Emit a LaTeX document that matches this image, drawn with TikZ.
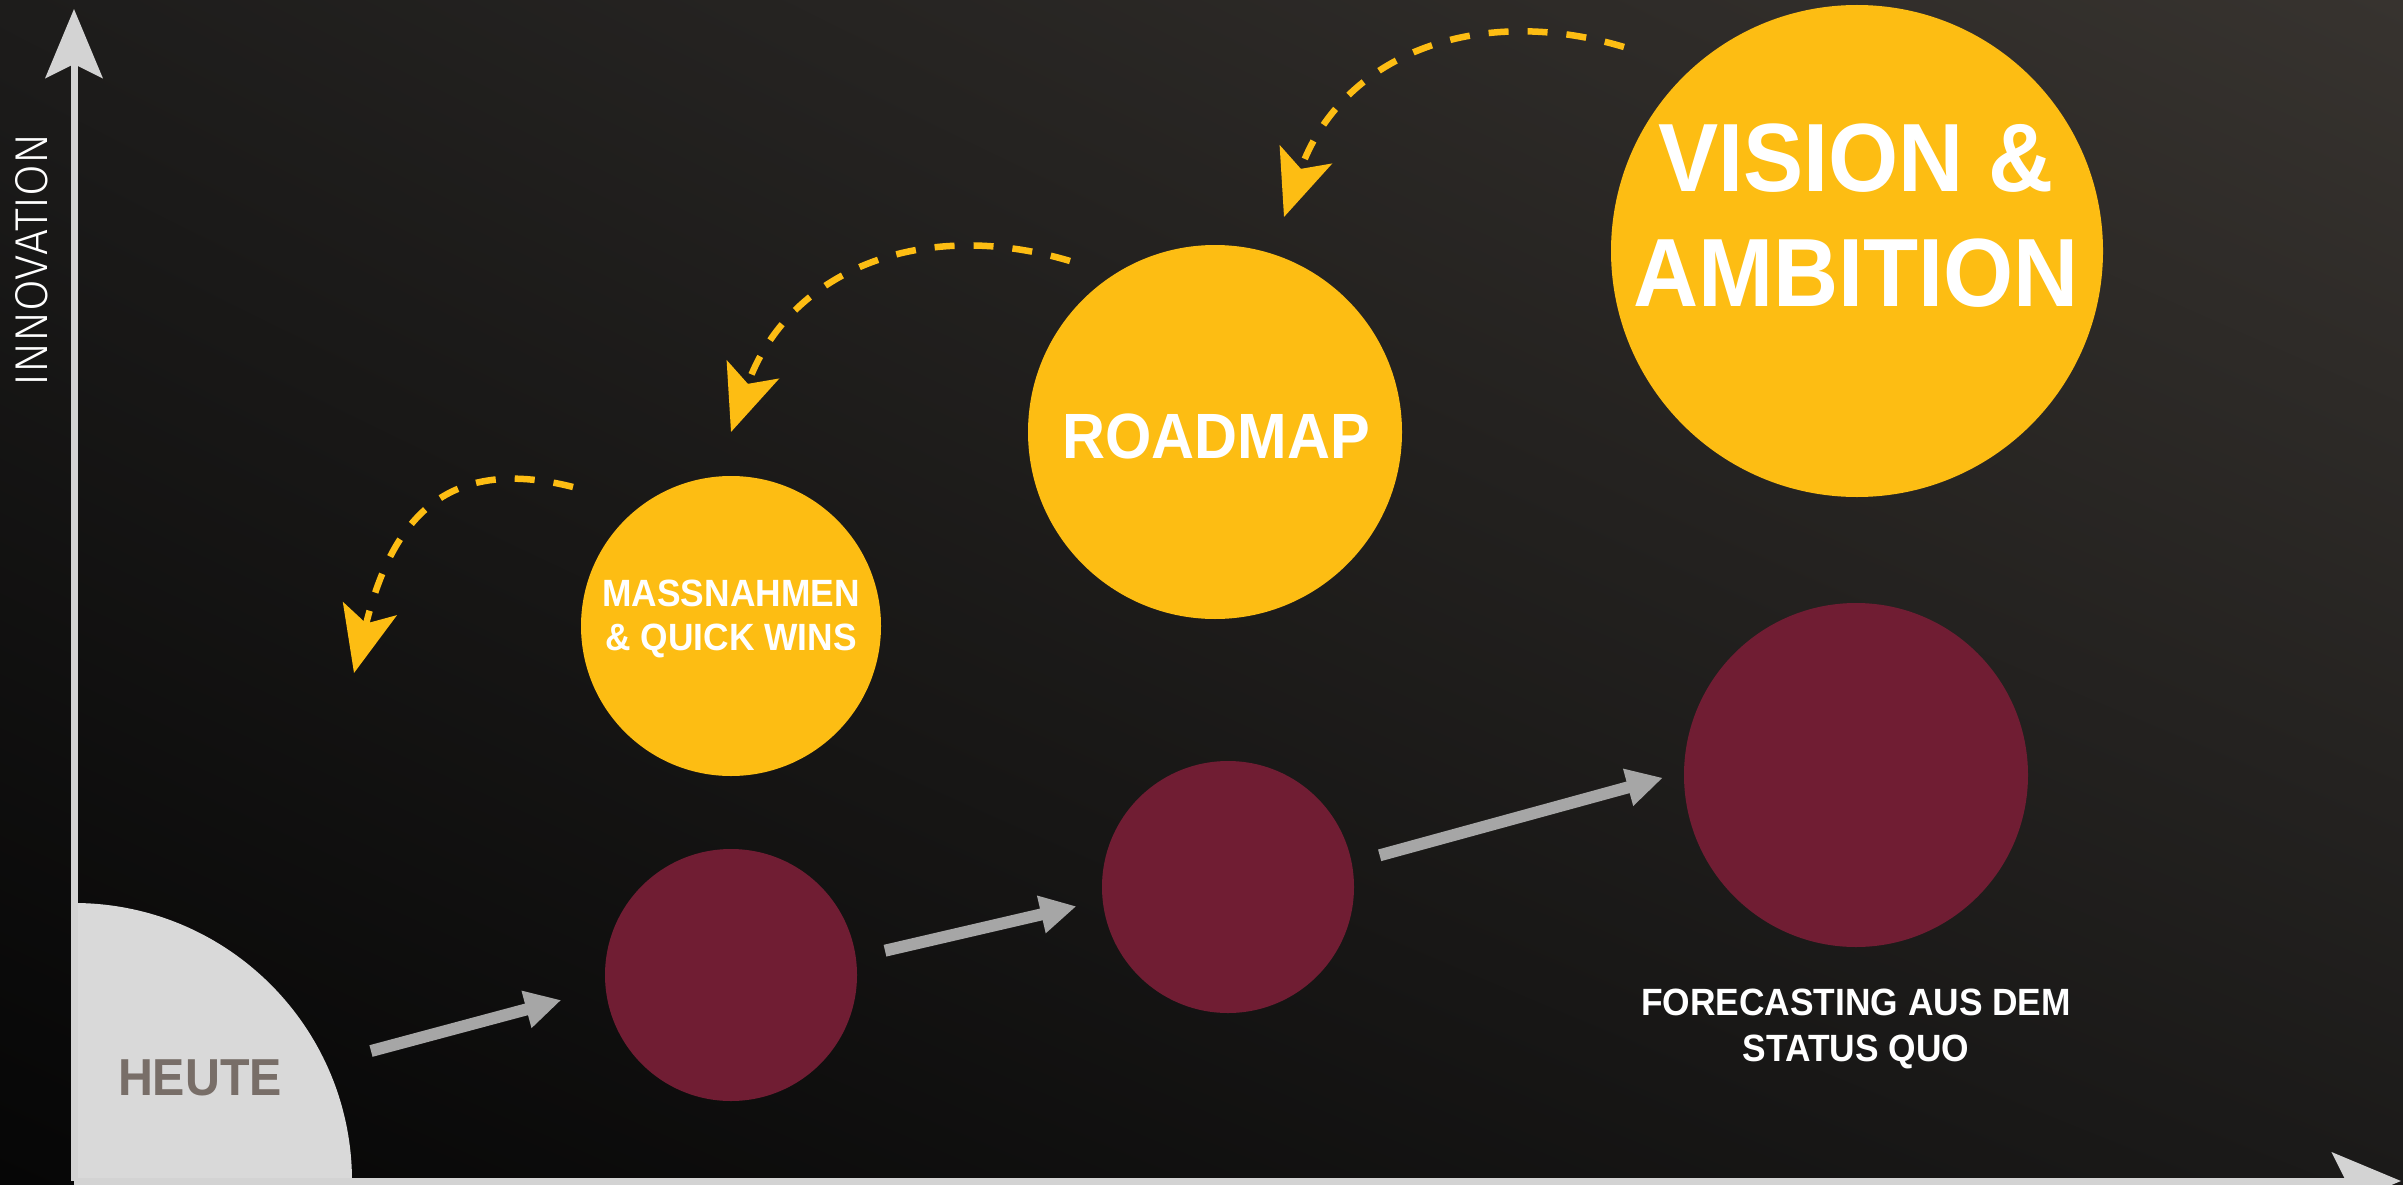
\documentclass[tikz,border=0pt]{standalone}
\usepackage{fontspec}
\newfontfamily\schmal[FakeStretch=0.93]{Liberation Sans}
\newfontfamily\duenn{Fira Sans Light}
\usetikzlibrary{arrows.meta, shadings}

\definecolor{gelb}{HTML}{FDBD13}
\definecolor{weinrot}{HTML}{701D33}
\definecolor{hellgrau}{HTML}{D9D9D9}
\definecolor{achsgrau}{HTML}{D3D3D3}
\definecolor{pfeilgrau}{HTML}{A6A6A6}
\definecolor{heutegrau}{HTML}{786E68}
\definecolor{bgol}{HTML}{1D1C1B}
\definecolor{bgor}{HTML}{37332F}
\definecolor{bgul}{HTML}{060606}
\definecolor{bgur}{HTML}{1B1A19}

\begin{document}
\begin{tikzpicture}[x=1pt, y=-1pt,
		kreis/.style={circle, inner sep=0pt, outer sep=0pt},
		titel/.style={text=white, font=\schmal\bfseries, align=center, inner sep=0pt},
		pfeil/.style={draw=pfeilgrau, line width=12pt, -{Triangle[length=36pt, width=36pt]}},
		rueck/.style={draw=gelb, line width=6.5pt, dash pattern=on 20pt off 19pt, -{Stealth[length=66pt, width=55pt, inset=15pt]}},
		achse/.style={draw=achsgrau, line width=7pt, -{Stealth[length=69pt, width=57pt, inset=14pt]}}]
		\useasboundingbox (0, 0) rectangle (2403, 1185);
		\shade[upper left=bgol, upper right=bgor, lower left=bgul, lower right=bgur] (0, 0) rectangle (2403, 1185);

		\coordinate (ursprung) at (74, 1181);
		\coordinate (y_spitze) at (74, 9);
		\coordinate (x_spitze) at (2401, 1181);
		\coordinate (h_pfeil) at (371, 1051);
		\coordinate (m_start) at (573, 487);
		\coordinate (m_ende) at (354, 673);
		\coordinate (r_start) at (1070, 261);
		\coordinate (r_ende) at (731, 432);
		\coordinate (v_start) at (1624, 47);
		\coordinate (v_ende) at (1284, 217);

		% heute
		\fill[hellgrau] (ursprung) -- ++(278, 0) arc[start angle=0, end angle=-90, radius=278] -- cycle;
		\node[text=heutegrau, font=\schmal\bfseries\fontsize{52}{60}\selectfont, inner sep=0pt] (heute) at (200, 1078) {HEUTE};

		% achsen
		\draw[achse] (ursprung) -- (y_spitze);
		\draw[achse] (ursprung) -- (x_spitze);
		\node[rotate=90, text=white, font=\duenn\fontsize{46}{54}\selectfont, inner sep=0pt] (innovation) at (32, 260) {INNOVATION};

		% kreise
		\node[kreis, fill=gelb, minimum size=300pt] (massnahmen) at (731, 626) {};
		\node[kreis, fill=gelb, minimum size=374pt] (roadmap) at (1215, 432) {};
		\node[kreis, fill=gelb, minimum size=492pt] (vision) at (1857, 251) {};
		\node[kreis, fill=weinrot, minimum size=252pt] (stufe1) at (731, 975) {};
		\node[kreis, fill=weinrot, minimum size=252pt] (stufe2) at (1228, 887) {};
		\node[kreis, fill=weinrot, minimum size=344pt] (stufe3) at (1856, 775) {};

		% texte
		\node[titel, anchor=north, font=\schmal\bfseries\fontsize{38}{44}\selectfont] (t_massnahmen) at (731, 580) {MASSNAHMEN\\\& QUICK WINS};
		\node[titel, font=\schmal\bfseries\fontsize{64}{70}\selectfont] (t_roadmap) at (1216, 436) {ROADMAP};
		\node[titel, anchor=north, font=\schmal\bfseries\fontsize{97}{115}\selectfont] (t_vision) at (1856, 124) {VISION \&\\AMBITION};
		\node[titel, anchor=north, font=\schmal\bfseries\fontsize{38}{46}\selectfont] (t_forecast) at (1856, 989) {FORECASTING AUS DEM\\STATUS QUO};

		% pfeile
		\draw[pfeil, shorten >=46pt] (h_pfeil) -- (stufe1.186);
		\draw[pfeil, shorten <=30pt, shorten >=27pt] (stufe1.8) -- (stufe2.186);
		\draw[pfeil, shorten <=29pt, shorten >=22pt] (stufe2.11.5) -- (stufe3.179);

		\draw[rueck] (v_start) .. controls +(-150, -45) and +(56, -160) .. (v_ende);
		\draw[rueck] (r_start) .. controls +(-150, -45) and +(56, -160) .. (r_ende);
		\draw[rueck] (m_start) .. controls +(-130, -33) and +(37, -150) .. (m_ende);
	\end{tikzpicture}
\end{document}
